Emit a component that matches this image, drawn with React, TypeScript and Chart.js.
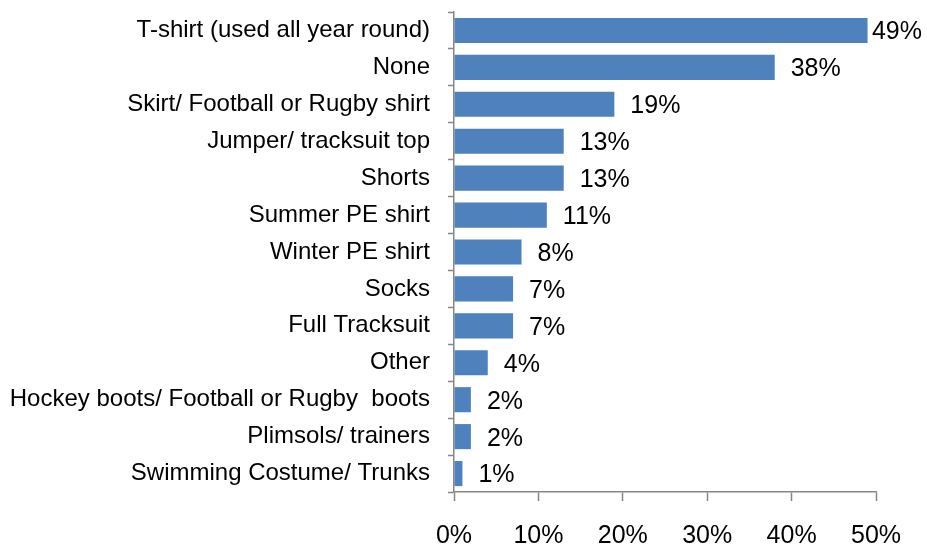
import React, { useEffect, useRef } from "react";
import { Chart, registerables } from "chart.js";

Chart.register(...registerables);

const categories = [
  "T-shirt (used all year round)",
  "None",
  "Skirt/ Football or Rugby shirt",
  "Jumper/ tracksuit top",
  "Shorts",
  "Summer PE shirt",
  "Winter PE shirt",
  "Socks",
  "Full Tracksuit",
  "Other",
  "Hockey boots/ Football or Rugby  boots",
  "Plimsols/ trainers",
  "Swimming Costume/ Trunks",
];
const values = [49, 38, 19, 13, 13, 11, 8, 7, 7, 4, 2, 2, 1];
const xTicks = [0, 10, 20, 30, 40, 50];

const FONT = "'Liberation Sans', Arial, sans-serif";
const AXIS = "#868686";

const labelPlugin = {
  id: "barLabels",
  afterDatasetsDraw(chart: any) {
    const ctx = chart.ctx;
    const meta = chart.getDatasetMeta(0);
    ctx.save();
    ctx.font = `25px ${FONT}`;
    ctx.fillStyle = "#000";
    ctx.textAlign = "left";
    ctx.textBaseline = "middle";
    meta.data.forEach((bar: any, i: number) => {
      const text = values[i] + "%";
      const w = ctx.measureText(text).width;
      let x = bar.x + 16;
      if (x + w > chart.width - 5) x = chart.width - 5 - w;
      ctx.fillText(text, x, bar.y + 2);
    });
    ctx.restore();
  },
};

export default function App() {
  const ref = useRef<HTMLCanvasElement>(null);
  useEffect(() => {
    document.body.style.margin = "0";
    const chart = new Chart(ref.current!, {
      type: "bar",
      data: {
        labels: categories,
        datasets: [
          {
            data: values,
            backgroundColor: "#4F81BD",
            barPercentage: 0.68,
            categoryPercentage: 1,
          },
        ],
      },
      options: {
        indexAxis: "y",
        animation: false,
        responsive: false,
        layout: { padding: { top: 12, right: 51, left: 0, bottom: 0 } },
        plugins: { legend: { display: false }, tooltip: { enabled: false } },
        scales: {
          x: {
            min: 0,
            max: 50,
            afterBuildTicks: (s: any) => {
              s.ticks = xTicks.map((v) => ({ value: v }));
            },
            afterFit: (s: any) => {
              s.height = 52;
              s.paddingLeft = 0;
              s.paddingRight = 0;
            },
            border: { color: AXIS, width: 1.5 },
            grid: {
              drawOnChartArea: false,
              drawTicks: true,
              tickLength: 9,
              tickColor: AXIS,
              tickWidth: 1.5,
            },
            ticks: {
              color: "#000",
              font: { family: FONT, size: 25 },
              padding: 20,
              maxRotation: 0,
              callback: (v: any) => v + "%",
            },
          },
          y: {
            afterFit: (s: any) => {
              s.width = 454;
              s.paddingTop = 0;
              s.paddingBottom = 0;
            },
            border: { color: AXIS, width: 1.5 },
            grid: {
              offset: true,
              drawOnChartArea: false,
              drawTicks: true,
              tickLength: 6,
              tickColor: AXIS,
              tickWidth: 1.5,
            },
            ticks: {
              color: "#000",
              font: { family: FONT, size: 24 },
              padding: 18,
              autoSkip: false,
            },
          },
        },
      },
      plugins: [labelPlugin],
    });
    return () => chart.destroy();
  }, []);
  return <canvas ref={ref} width={927} height={544} style={{ display: "block" }} />;
}
